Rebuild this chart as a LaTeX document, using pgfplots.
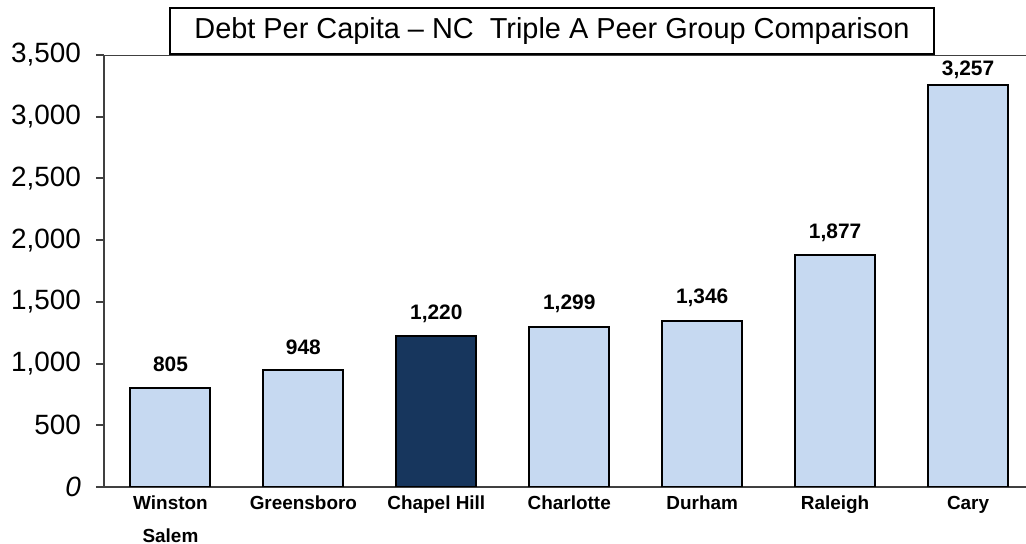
\documentclass[border=0pt]{standalone}
\usepackage{pgfplots}
\pgfplotsset{compat=1.18}
\usepackage{fontspec}
\setmainfont{Liberation Sans}
\definecolor{lightbar}{HTML}{C6D9F1}
\definecolor{darkbar}{HTML}{17365D}
\definecolor{axgray}{HTML}{404040}
\begin{document}
\begin{tikzpicture}
\useasboundingbox (0,0) rectangle (513bp,272bp);
\begin{axis}[
  at={(52bp,28.5bp)}, anchor=south west,
  scale only axis, width=461bp, height=216bp,
  xmin=-0.5, xmax=6.436, ymin=0, ymax=3500,
  axis x line=bottom, axis y line=left,
  axis line style={-, axgray, line width=1.2bp},
  ytick={0,500,1000,1500,2000,2500,3000,3500},
  yticklabels={\textit{0},500,{1,000},{1,500},{2,000},{2,500},{3,000},{3,500}},
  y tick label style={font=\fontsize{14}{14}\selectfont, xshift=-4bp},
  ytick style={axgray, line width=1bp},
  tick align=outside, major tick length=4bp,
  xtick={0,1,2,3,4,5,6},
  xticklabels={Winston\\Salem,Greensboro,Chapel Hill,Charlotte,Durham,Raleigh,Cary},
  x tick label style={font=\bfseries\fontsize{9.5}{16.5}\selectfont, align=center, anchor=north, yshift=3bp},
  xtick style={draw=none},
  ybar, bar width=40bp, bar shift=0pt,
  visualization depends on={value \thisrow{off}\as\off},
  nodes near coords={\pgfmathprintnumber[assume math mode=true, 1000 sep={,}]{\pgfplotspointmeta}},
  nodes near coords style={font=\bfseries\fontsize{10.5}{12}\selectfont, anchor=center, yshift=\off*1bp},
]
\addplot[draw=black, line width=1bp, fill=lightbar] table {
x y off
0 805 11.5
1 948 11.5
3 1299 11.5
4 1346 11.5
5 1877 11.5
6 3257 7.5
};
\addplot[draw=black, line width=1bp, fill=darkbar] table {
x y off
2 1220 11.5
};
\draw[axgray, line width=1.2bp] (rel axis cs:0,1) -- (rel axis cs:1,1);
\end{axis}
\node[draw=black, line width=1bp, fill=white, minimum width=382bp, minimum height=23bp, anchor=south west, inner sep=0pt, font=\fontsize{14.5}{15}\selectfont] at (84.5bp,244.5bp) {\raisebox{-1bp}{Debt Per Capita -- NC~~Triple A Peer Group Comparison}};
\end{tikzpicture}
\end{document}
